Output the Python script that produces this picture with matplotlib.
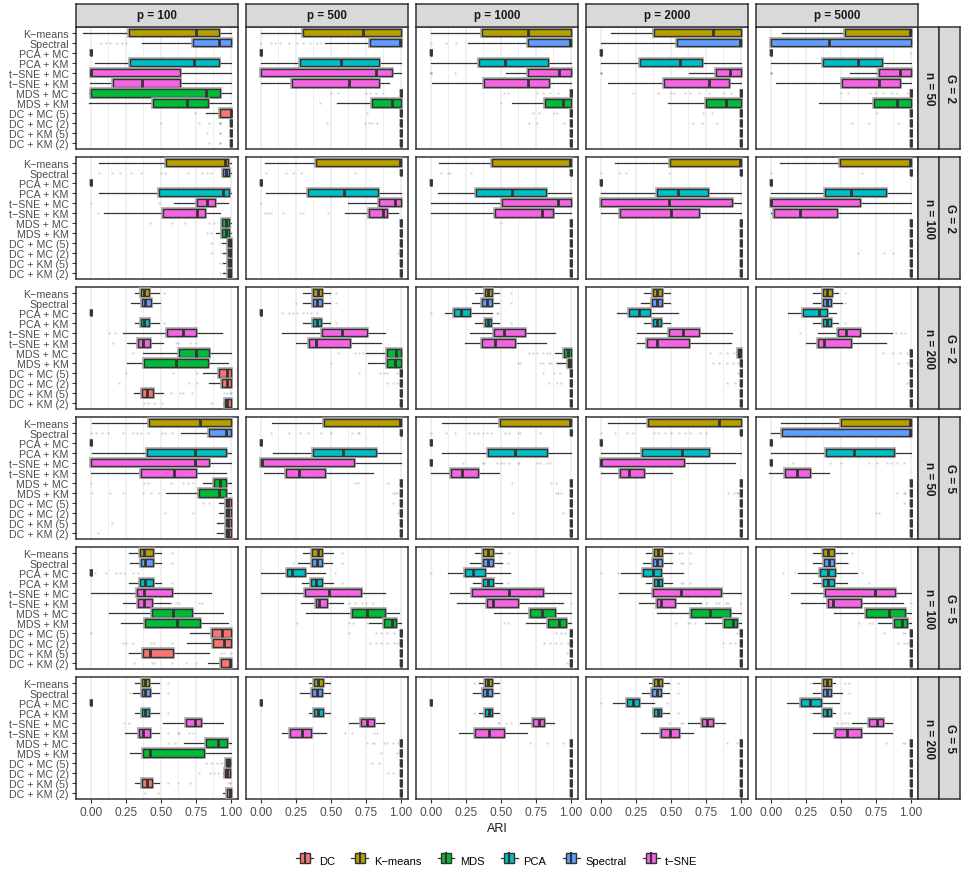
import matplotlib
matplotlib.use("Agg")
import matplotlib.pyplot as plt
from matplotlib.patches import Rectangle, Patch
from matplotlib.lines import Line2D
from matplotlib.legend_handler import HandlerBase
import matplotlib.patheffects as pe

plt.rcParams['font.family'] = ['Liberation Sans', 'DejaVu Sans']

methods = ["K\u2212means", "Spectral", "PCA + MC", "PCA + KM", "t\u2212SNE + MC", "t\u2212SNE + KM",
           "MDS + MC", "MDS + KM", "DC + MC (5)", "DC + MC (2)", "DC + KM (5)", "DC + KM (2)"]
method_group = ["K\u2212means", "Spectral", "PCA", "PCA", "t\u2212SNE", "t\u2212SNE",
                "MDS", "MDS", "DC", "DC", "DC", "DC"]
legend_order = ["DC", "K\u2212means", "MDS", "PCA", "Spectral", "t\u2212SNE"]
group_colors = {"DC": "#F8766D", "K\u2212means": "#B79F00", "MDS": "#00BA38",
                "PCA": "#00BFC4", "Spectral": "#619CFF", "t\u2212SNE": "#F564E3"}
p_labels = ["p = 100", "p = 500", "p = 1000", "p = 2000", "p = 5000"]
n_labels = ["n = 50", "n = 100", "n = 200", "n = 50", "n = 100", "n = 200"]
g_labels = ["G = 2", "G = 2", "G = 2", "G = 5", "G = 5", "G = 5"]
x_ticks = [0.0, 0.25, 0.5, 0.75, 1.0]

# box stats per method: (whisker low, q1, median, q3, whisker high)
ONE = (1.0, 1.0, 1.0, 1.0, 1.0)
ZERO = (0.0, 0.0, 0.0, 0.0, 0.0)

g2_n50 = [
    [(-0.055, 0.271, 0.751, 0.917, 1.0), (0.363, 0.732, 0.914, 1.0, 1.0), ZERO,
     (0.033, 0.28, 0.736, 0.912, 1.0), (0.0, 0.0, 0.005, 0.634, 1.0), (-0.005, 0.16, 0.363, 0.636, 1.0),
     (-0.01, 0.0, 0.824, 0.919, 1.0), (-0.01, 0.447, 0.684, 0.834, 1.0), (0.824, 0.919, 1.0, 1.0, 1.0),
     ONE, ONE, ONE],
    [(0.0, 0.304, 0.732, 1.0, 1.0), (0.458, 0.781, 0.993, 1.0, 1.0), ZERO,
     (0.0, 0.278, 0.572, 0.846, 1.0), (0.0, 0.002, 0.822, 0.938, 1.0), (0.0, 0.226, 0.627, 0.841, 0.917),
     ONE, (0.542, 0.791, 0.936, 1.0, 1.0), ONE, ONE, ONE, ONE],
    [(0.0, 0.368, 0.69, 1.0, 1.0), (0.268, 0.697, 0.992, 1.0, 1.0), ZERO,
     (0.0, 0.342, 0.533, 0.837, 1.0), (0.54, 0.695, 0.913, 1.0, 1.0), (0.007, 0.382, 0.697, 0.842, 1.0),
     ONE, (0.581, 0.816, 0.942, 1.0, 1.0), ONE, ONE, ONE, ONE],
    [(0.071, 0.382, 0.8, 1.0, 1.0), (0.0, 0.542, 0.995, 1.0, 1.0), ZERO,
     (0.0, 0.283, 0.563, 0.724, 1.0), (0.632, 0.819, 0.919, 1.0, 1.0), (0.052, 0.449, 0.77, 0.917, 1.0),
     ONE, (0.482, 0.753, 0.895, 1.0, 1.0), ONE, ONE, ONE, ONE],
    [(0.081, 0.527, 0.99, 1.0, 1.0), (0.0, 0.0, 0.413, 1.0, 1.0), ZERO,
     (0.0, 0.375, 0.622, 0.793, 1.0), (0.565, 0.77, 0.924, 1.0, 1.0), (0.038, 0.508, 0.77, 0.919, 1.0),
     ONE, (0.347, 0.739, 0.898, 1.0, 1.0), ONE, ONE, ONE, ONE],
]

g2_n100 = [
    [(0.059, 0.539, 0.957, 0.981, 1.0), (0.941, 0.941, 0.967, 0.983, 1.0), ZERO,
     (0.059, 0.485, 0.941, 0.983, 1.0), (0.594, 0.76, 0.831, 0.884, 0.981), (0.095, 0.515, 0.755, 0.812, 0.922),
     (0.93, 0.938, 0.964, 0.983, 1.0), (0.89, 0.938, 0.962, 0.983, 1.0), (0.933, 0.976, 0.993, 1.0, 1.0),
     (0.94, 0.976, 0.995, 1.0, 1.0), (0.94, 0.976, 0.995, 1.0, 1.0), (0.94, 0.976, 0.995, 1.0, 1.0)],
    [(0.033, 0.394, 0.993, 1.0, 1.0), ONE, ZERO,
     (0.036, 0.34, 0.596, 0.836, 1.0), (0.62, 0.846, 0.96, 1.0, 1.0), (0.601, 0.774, 0.869, 0.9, 0.976),
     ONE, ONE, ONE, ONE, ONE, ONE],
    [(0.062, 0.435, 0.99, 1.0, 1.0), ONE, ZERO,
     (0.05, 0.321, 0.581, 0.823, 1.0), (0.0, 0.51, 0.909, 1.0, 1.0), (0.0, 0.458, 0.792, 0.873, 1.0),
     ONE, ONE, ONE, ONE, ONE, ONE],
    [(0.1, 0.494, 0.995, 1.0, 1.0), ONE, ZERO,
     (0.0, 0.404, 0.549, 0.762, 1.0), (0.0, 0.0, 0.487, 0.938, 1.0), (0.0, 0.138, 0.504, 0.703, 1.0),
     ONE, ONE, ONE, ONE, ONE, ONE],
    [(0.067, 0.494, 0.993, 1.0, 1.0), ONE, ZERO,
     (0.0, 0.385, 0.57, 0.824, 1.0), (0.0, 0.0, 0.005, 0.637, 1.0), (0.0, 0.021, 0.207, 0.47, 1.0),
     ONE, ONE, ONE, ONE, ONE, ONE],
]

g2_n200 = [
    [(0.316, 0.359, 0.382, 0.418, 0.489), (0.287, 0.368, 0.39, 0.428, 0.494), ZERO,
     (0.316, 0.356, 0.382, 0.418, 0.489), (0.233, 0.542, 0.658, 0.753, 0.936), (0.259, 0.337, 0.375, 0.425, 0.518),
     (0.375, 0.632, 0.751, 0.843, 0.998), (0.259, 0.382, 0.608, 0.834, 0.981), (0.8, 0.914, 0.971, 1.0, 1.0),
     (0.846, 0.936, 0.974, 1.0, 1.0), (0.311, 0.368, 0.399, 0.447, 0.513), (0.943, 0.957, 0.974, 1.0, 1.0)],
    [(0.304, 0.375, 0.406, 0.435, 0.494), (0.304, 0.375, 0.404, 0.437, 0.494), ZERO,
     (0.304, 0.375, 0.404, 0.432, 0.494), (0.15, 0.439, 0.577, 0.76, 0.886), (0.252, 0.347, 0.392, 0.637, 0.855),
     (0.751, 0.898, 0.964, 1.0, 1.0), (0.762, 0.898, 0.957, 1.0, 1.0), ONE, ONE, ONE, ONE],
    [(0.316, 0.387, 0.411, 0.434, 0.488), (0.297, 0.368, 0.404, 0.436, 0.488), (0.102, 0.166, 0.214, 0.28, 0.437),
     (0.316, 0.387, 0.409, 0.431, 0.488), (0.28, 0.454, 0.524, 0.673, 0.889), (0.247, 0.366, 0.458, 0.602, 0.823),
     (0.885, 0.949, 0.98, 1.0, 1.0), (0.897, 0.98, 0.992, 1.0, 1.0), ONE, ONE, ONE, ONE],
    [(0.311, 0.375, 0.399, 0.435, 0.496), (0.287, 0.368, 0.399, 0.439, 0.496), (0.114, 0.204, 0.273, 0.354, 0.549),
     (0.311, 0.375, 0.404, 0.432, 0.496), (0.261, 0.487, 0.589, 0.698, 0.936), (0.259, 0.33, 0.399, 0.627, 0.926),
     (0.97, 0.979, 0.99, 1.0, 1.0), ONE, ONE, ONE, ONE, ONE],
    [(0.304, 0.375, 0.404, 0.435, 0.482), (0.304, 0.373, 0.402, 0.432, 0.506), (0.126, 0.233, 0.347, 0.399, 0.463),
     (0.304, 0.375, 0.404, 0.432, 0.482), (0.34, 0.482, 0.539, 0.637, 0.862), (0.254, 0.34, 0.382, 0.572, 0.819),
     ONE, ONE, ONE, ONE, ONE, ONE],
]

g5_n50 = [
    [(0.012, 0.418, 0.779, 1.0, 1.0), (0.644, 0.843, 0.967, 1.0, 1.0), ZERO,
     (0.01, 0.399, 0.741, 0.962, 1.0), (0.0, 0.0, 0.743, 0.841, 1.0), (0.0, 0.356, 0.596, 0.748, 0.962),
     (0.798, 0.881, 0.922, 0.962, 1.0), (0.539, 0.774, 0.917, 0.962, 1.0), (0.917, 0.962, 0.981, 1.0, 1.0),
     (0.917, 0.962, 0.981, 1.0, 1.0), (0.903, 0.962, 0.981, 1.0, 1.0), (0.903, 0.962, 0.981, 1.0, 1.0)],
    [(0.083, 0.454, 0.993, 1.0, 1.0), ONE, ZERO,
     (0.086, 0.375, 0.589, 0.819, 1.0), (0.0, 0.0, 0.007, 0.667, 1.0), (0.026, 0.181, 0.271, 0.456, 0.803),
     ONE, ONE, ONE, ONE, ONE, ONE],
    [(0.078, 0.493, 0.992, 1.0, 1.0), ONE, ZERO,
     (0.078, 0.406, 0.6, 0.83, 1.0), ZERO, (0.0, 0.143, 0.221, 0.34, 0.487),
     ONE, ONE, ONE, ONE, ONE, ONE],
    [(0.055, 0.34, 0.841, 1.0, 1.0), ONE, ZERO,
     (0.0, 0.297, 0.58, 0.774, 1.0), (0.0, 0.0, 0.004, 0.596, 0.957), (0.0, 0.138, 0.204, 0.309, 0.511),
     ONE, ONE, ONE, ONE, ONE, ONE],
    [(0.071, 0.501, 0.993, 1.0, 1.0), (0.0, 0.081, 0.993, 1.0, 1.0), ZERO,
     (0.0, 0.392, 0.594, 0.881, 1.0), ZERO, (-0.01, 0.105, 0.19, 0.283, 0.418),
     ONE, ONE, ONE, ONE, ONE, ONE],
]

g5_n100 = [
    [(0.271, 0.354, 0.38, 0.442, 0.501), (0.278, 0.359, 0.385, 0.442, 0.501), ZERO,
     (0.271, 0.352, 0.385, 0.442, 0.501), (0.0, 0.333, 0.382, 0.58, 0.857), (0.23, 0.34, 0.38, 0.435, 0.563),
     (0.131, 0.439, 0.589, 0.724, 0.941), (0.219, 0.385, 0.613, 0.781, 0.981), (0.708, 0.862, 0.938, 1.0, 1.0),
     (0.686, 0.872, 0.95, 1.0, 1.0), (0.276, 0.371, 0.425, 0.589, 0.846), (0.836, 0.926, 0.99, 1.0, 1.0)],
    [(0.299, 0.363, 0.411, 0.437, 0.518), (0.264, 0.366, 0.399, 0.437, 0.506), (0.005, 0.19, 0.226, 0.316, 0.458),
     (0.297, 0.361, 0.394, 0.437, 0.518), (0.0, 0.318, 0.487, 0.713, 0.886), (0.287, 0.394, 0.418, 0.475, 0.589),
     (0.323, 0.651, 0.76, 0.888, 0.983), (0.774, 0.881, 0.938, 0.967, 1.0), ONE, ONE, ONE, ONE],
    [(0.316, 0.375, 0.406, 0.442, 0.51), (0.28, 0.373, 0.411, 0.442, 0.51), (0.126, 0.245, 0.304, 0.387, 0.564),
     (0.304, 0.373, 0.406, 0.442, 0.51), (0.138, 0.297, 0.559, 0.802, 1.0), (0.19, 0.399, 0.447, 0.624, 0.944),
     (0.452, 0.709, 0.794, 0.889, 1.0), (0.678, 0.837, 0.913, 0.963, 1.0), ONE, ONE, ONE, ONE],
    [(0.325, 0.38, 0.406, 0.439, 0.511), (0.302, 0.375, 0.399, 0.435, 0.511), (0.145, 0.304, 0.371, 0.428, 0.584),
     (0.325, 0.382, 0.406, 0.437, 0.511), (0.128, 0.375, 0.572, 0.855, 0.998), (0.271, 0.404, 0.428, 0.532, 0.715),
     (0.399, 0.646, 0.779, 0.919, 0.998), (0.746, 0.876, 0.945, 0.974, 1.0), ONE, ONE, ONE, ONE],
    [(0.304, 0.371, 0.411, 0.454, 0.546), (0.304, 0.382, 0.418, 0.454, 0.546), (0.197, 0.352, 0.406, 0.461, 0.613),
     (0.304, 0.371, 0.411, 0.454, 0.546), (0.147, 0.39, 0.743, 0.886, 0.998), (0.216, 0.411, 0.447, 0.644, 0.941),
     (0.454, 0.679, 0.843, 0.96, 1.0), (0.762, 0.879, 0.936, 0.974, 1.0), ONE, ONE, ONE, ONE],
]

g5_n200 = [
    [(0.316, 0.363, 0.385, 0.418, 0.489), (0.304, 0.363, 0.385, 0.423, 0.489), ZERO,
     (0.316, 0.363, 0.39, 0.418, 0.489), (0.518, 0.677, 0.743, 0.786, 0.943), (0.242, 0.347, 0.371, 0.423, 0.489),
     (0.667, 0.824, 0.905, 0.969, 1.0), (0.28, 0.375, 0.423, 0.81, 1.0), (0.962, 0.962, 0.976, 0.993, 1.0),
     (0.957, 0.957, 0.969, 0.993, 1.0), (0.316, 0.368, 0.399, 0.435, 0.489), (0.945, 0.974, 0.993, 1.0, 1.0)],
    [(0.347, 0.38, 0.411, 0.442, 0.494), (0.28, 0.368, 0.399, 0.435, 0.494), ZERO,
     (0.347, 0.38, 0.406, 0.442, 0.494), (0.629, 0.713, 0.76, 0.81, 0.881), (0.15, 0.211, 0.295, 0.356, 0.463),
     ONE, ONE, ONE, ONE, ONE, ONE],
    [(0.344, 0.387, 0.411, 0.44, 0.486), (0.304, 0.371, 0.4, 0.44, 0.486), ZERO,
     (0.344, 0.389, 0.413, 0.44, 0.486), (0.636, 0.731, 0.771, 0.809, 0.878), (0.2, 0.318, 0.418, 0.521, 0.683),
     ONE, ONE, ONE, ONE, ONE, ONE],
    [(0.344, 0.38, 0.406, 0.435, 0.485), (0.292, 0.368, 0.399, 0.432, 0.485), (0.086, 0.185, 0.228, 0.276, 0.38),
     (0.375, 0.38, 0.406, 0.432, 0.485), (0.625, 0.722, 0.76, 0.798, 0.884), (0.287, 0.432, 0.494, 0.561, 0.656),
     ONE, ONE, ONE, ONE, ONE, ONE],
    [(0.304, 0.375, 0.399, 0.428, 0.461), (0.304, 0.371, 0.399, 0.428, 0.506), (0.114, 0.214, 0.28, 0.356, 0.489),
     (0.304, 0.375, 0.399, 0.428, 0.461), (0.582, 0.703, 0.755, 0.798, 0.867), (0.304, 0.458, 0.546, 0.646, 0.867),
     ONE, ONE, ONE, ONE, ONE, ONE],
]

# outliers: {method index: [values]} for each p
g2_n50_out = [
    {1: [0.07, 0.11, 0.14, 0.19, 0.22, 0.25], 8: [0.74], 9: [0.5, 0.77, 0.84, 0.92, 0.92, 0.92],
     10: [0.83, 0.92, 0.92], 11: [0.84, 0.92, 0.92]},
    {1: [0.0, 0.07, 0.1, 0.14, 0.2, 0.26, 0.3, 0.35, 0.4, 0.43], 6: [0.5, 0.55, 0.75, 0.78, 0.82, 0.87],
     7: [0.42], 8: [0.76], 9: [0.47, 0.74, 0.77, 0.79, 0.83]},
    {1: [0.0, 0.11, 0.18], 4: [0.0, 0.0, 0.0, 0.17], 5: [0.37], 6: [0.52, 0.55, 0.76, 0.8, 0.85, 0.91],
     7: [0.5], 8: [0.73, 0.77, 0.88, 0.9], 9: [0.7, 0.76, 0.95]},
    {4: [0.0, 0.0, 0.0], 6: [0.23, 0.41, 0.5, 0.52, 0.6, 0.64, 0.7, 0.77, 0.88, 0.93], 8: [0.73, 0.79],
     9: [0.66, 0.72, 0.83]},
    {2: [1.0], 4: [0.0, 0.0, 0.0], 6: [0.5, 0.55, 0.71, 0.75, 0.8, 0.86, 0.9, 0.97], 8: [0.76],
     9: [0.58, 0.7, 0.91]},
]
g2_n100_out = [
    {1: [0.06, 0.15, 0.21, 0.29, 0.36, 0.5, 0.53, 0.69, 0.79, 0.83, 0.86], 4: [0.0, 0.49], 5: [0.05],
     6: [0.42, 0.58, 0.67, 0.84, 0.88], 7: [0.83, 0.86], 8: [0.86, 0.92], 9: [0.86, 0.93, 0.95],
     10: [0.92, 0.94], 11: [0.92, 0.95]},
    {1: [0.04, 0.18, 0.23, 0.29, 0.67, 0.99], 4: [0.0], 5: [0.03, 0.05, 0.07, 0.16, 0.28, 0.3, 0.48], 9: [0.98]},
    {1: [0.07, 0.12, 0.14, 0.29], 6: [0.5]},
    {1: [0.0, 0.14, 0.18, 0.49]},
    {1: [0.0, 0.65], 9: [0.62, 0.81, 0.87]},
]
g2_n200_out = [
    {0: [0.52], 3: [0.52], 4: [0.13, 0.17], 5: [0.16, 0.61, 0.62, 0.71, 0.75], 6: [0.3],
     8: [0.25, 0.59, 0.76], 9: [0.2, 0.7, 0.76, 0.88], 10: [0.57, 0.64, 0.66, 0.72, 0.95, 0.97, 0.99, 1.0],
     11: [0.38, 0.41, 0.45, 0.51, 0.86]},
    {0: [0.54], 1: [0.25, 0.54], 2: [0.15, 0.2, 0.23, 0.26, 0.3, 0.33, 0.36, 0.4], 3: [0.54],
     6: [0.55, 0.67, 0.7, 0.73], 7: [0.5], 8: [0.7, 0.85, 0.88, 0.9, 0.97], 9: [0.9, 0.94, 0.97]},
    {0: [0.57], 1: [0.57], 2: [0.0, 0.47, 0.48], 3: [0.57], 6: [0.7, 0.73, 0.76, 0.8, 0.83, 0.85],
     7: [0.62, 0.64, 0.78, 0.8, 0.84, 0.86, 0.89, 0.91, 0.93], 8: [0.8, 0.88, 0.92], 9: [0.84, 0.9, 0.93]},
    {6: [0.78, 0.85, 0.9, 0.95, 0.97], 7: [0.8, 0.84, 0.9, 0.94, 0.98], 8: [0.98], 9: [0.9, 0.96]},
    {0: [0.53], 1: [0.53], 3: [0.53], 4: [0.21, 0.89, 0.93, 0.96], 6: [0.8, 0.87, 0.92, 0.97],
     7: [0.91, 0.97], 9: [0.97]},
]
g5_n50_out = [
    {1: [0.0, 0.04, 0.08, 0.12, 0.23, 0.3, 0.33, 0.36, 0.41, 0.51, 0.53, 0.58],
     6: [0.0, 0.38, 0.41, 0.57, 0.66, 0.69, 0.73], 7: [0.01, 0.14, 0.23, 0.37, 0.43, 0.49],
     8: [0.8, 0.84], 9: [0.53, 0.73], 10: [0.15, 0.91], 11: [0.05]},
    {1: [0.07, 0.2, 0.28, 0.34, 0.43, 0.5, 0.65, 0.69, 0.7], 6: [0.67, 0.69, 0.91], 7: [0.94, 0.96, 0.97],
     8: [0.94], 9: [0.98]},
    {1: [0.0, 0.11, 0.17, 0.27, 0.31, 0.34, 0.37, 0.4, 0.43, 0.53, 0.56, 0.62, 0.64, 0.78],
     4: [0.23, 0.37, 0.38, 0.47, 0.5, 0.52, 0.56, 0.62, 0.63, 0.76, 0.78, 0.83, 0.85],
     6: [0.58, 0.86, 0.89], 7: [0.89, 0.91, 0.93], 9: [0.59, 0.94]},
    {1: [0.0, 0.1, 0.19, 0.23, 0.38, 0.41, 0.46, 0.5, 0.56, 0.6, 0.64, 0.71, 0.75], 7: [0.91, 0.95, 0.97, 0.98]},
    {4: [0.16, 0.42, 0.5, 0.7, 0.76, 0.83, 0.86, 0.9, 0.95], 7: [0.9, 0.95, 0.96], 8: [0.95], 9: [0.75, 0.77]},
]
g5_n100_out = [
    {0: [0.58], 1: [0.58], 2: [0.03, 0.11, 0.18, 0.21, 0.24, 0.3, 0.34], 3: [0.58],
     5: [0.58, 0.61, 0.63, 0.77, 0.79], 8: [0.0], 9: [0.23, 0.25, 0.3, 0.43, 0.45, 0.58],
     10: [0.93, 0.95, 1.0], 11: [0.31, 0.44, 0.45, 0.58, 0.68, 0.75]},
    {0: [0.58], 1: [0.23, 0.58], 2: [0.53], 3: [0.58], 5: [0.63, 0.67, 0.72, 0.75, 0.8],
     7: [0.26, 0.63, 0.66, 0.76], 8: [0.63, 0.82, 0.86, 0.9, 0.95], 9: [0.78, 0.82, 0.86, 0.9, 0.95, 0.97]},
    {0: [0.56], 1: [0.55], 2: [0.0], 3: [0.55], 5: [1.0], 7: [0.52, 0.55], 8: [0.89, 0.93, 0.96, 0.99],
     9: [0.81, 0.85, 0.89, 0.93, 0.98], 10: [0.97], 11: [0.97]},
    {0: [0.56, 0.58, 0.64], 1: [0.57, 0.59, 0.64], 2: [0.0, 0.12], 3: [0.57, 0.59, 0.64],
     5: [0.76, 0.82, 0.84, 0.89, 0.91, 1.0], 7: [0.54, 0.62, 0.64, 0.67], 8: [0.97], 9: [0.87, 0.92, 0.96]},
    {0: [0.58], 1: [0.55], 2: [0.09, 0.17, 0.65], 3: [0.7], 5: [1.0], 7: [0.63, 0.7, 0.72],
     8: [0.81, 0.94, 0.96], 9: [0.91, 0.95, 0.97]},
]
g5_n200_out = [
    {0: [0.55], 1: [0.28, 0.55], 3: [0.55], 4: [0.24, 0.27], 5: [0.55, 0.62, 0.63, 0.7, 0.73],
     6: [0.55, 0.6], 8: [0.82, 0.86, 0.9, 0.93, 0.95], 9: [0.77, 0.85, 0.88, 0.91, 0.94],
     10: [0.55, 0.62, 0.71, 0.98, 0.99, 1.0], 11: [0.39, 0.48]},
    {5: [0.6, 0.65, 0.81, 0.83], 6: [0.76, 0.79, 0.81, 0.88, 0.9, 0.94, 0.98], 7: [0.86, 0.97],
     8: [0.79, 0.84], 9: [0.91, 0.94]},
    {0: [0.31], 3: [0.31], 4: [0.48, 0.49, 0.54, 0.57], 6: [0.71, 0.83, 0.94]},
    {0: [0.55], 1: [0.55], 2: [0.0, 0.47], 3: [0.55], 4: [0.49, 0.57, 0.59], 6: [0.9, 0.97]},
    {0: [0.29, 0.53, 0.56], 1: [0.56], 3: [0.29, 0.53, 0.56], 4: [0.47, 0.51, 0.53, 0.55], 6: [0.82, 0.94, 0.96]},
]

rows = [g2_n50, g2_n100, g2_n200, g5_n50, g5_n100, g5_n200]
rows_out = [g2_n50_out, g2_n100_out, g2_n200_out, g5_n50_out, g5_n100_out, g5_n200_out]

W, H = 967, 878
fig = plt.figure(figsize=(W / 100, H / 100), dpi=100)


def px_axes(x, y, w, h):
    return fig.add_axes([x / W, 1 - (y + h) / H, w / W, h / H])


DARK = "#333333"
ypos = list(range(12, 0, -1))
halo = [pe.Stroke(linewidth=2.6, foreground="#a8a8a8"), pe.Normal()]

for r, (row, row_out) in enumerate(zip(rows, rows_out)):
    for c in range(5):
        ax = px_axes(75.7 + 170 * c, 27.5 + 130 * r, 162.6, 122.6)
        stats = [dict(whislo=s[0], q1=s[1], med=s[2], q3=s[3], whishi=s[4], fliers=[]) for s in row[c]]
        bp = ax.bxp(stats, positions=ypos, widths=0.75, orientation='horizontal', patch_artist=True,
                    showcaps=False, manage_ticks=False,
                    boxprops=dict(edgecolor=DARK, linewidth=1.0),
                    whiskerprops=dict(color=DARK, linewidth=0.9),
                    medianprops=dict(color=DARK, linewidth=2.0, solid_capstyle='butt'))
        for patch, g in zip(bp['boxes'], method_group):
            patch.set_facecolor(group_colors[g])
            patch.set_path_effects(halo)
            patch.set_zorder(3)
        for m in bp['medians']:
            m.set_zorder(4)
        for idx, vals in row_out[c].items():
            ax.scatter(vals, [ypos[idx]] * len(vals), s=3, color="#555555", alpha=0.22,
                       linewidths=0, zorder=2)

        ax.set_xlim(-0.107, 1.052)
        ax.set_ylim(0.4, 12.6)
        ax.set_xticks(x_ticks)
        ax.set_xticks([0.125, 0.375, 0.625, 0.875], minor=True)
        ax.grid(axis='x', which='major', color='#EBEBEB', linewidth=1.1)
        ax.grid(axis='x', which='minor', color='#EBEBEB', linewidth=0.6)
        ax.set_axisbelow(True)
        for sp in ax.spines.values():
            sp.set_color(DARK)
            sp.set_linewidth(1.1)
        ax.tick_params(which='minor', length=0)
        ax.tick_params(which='major', color=DARK, length=3, width=0.8, labelcolor='#4D4D4D', pad=2)
        ax.set_yticks(ypos)
        if c == 0:
            ax.set_yticklabels(methods, fontsize=7.7)
        else:
            ax.tick_params(axis='y', length=0, labelleft=False)
        if r == len(rows) - 1:
            ax.set_xticklabels(["%.2f" % t for t in x_ticks], fontsize=8.6)
        else:
            ax.tick_params(axis='x', length=0, labelbottom=False)


def strip(x, y, w, h, text, rot=0):
    s = px_axes(x, y, w, h)
    s.set_facecolor('#D9D9D9')
    s.set_xticks([])
    s.set_yticks([])
    for sp in s.spines.values():
        sp.set_color(DARK)
        sp.set_linewidth(1.1)
    s.text(0.5, 0.5, text, ha='center', va='center', rotation=rot, fontsize=8.4,
           fontweight='bold', color='#1A1A1A', transform=s.transAxes)


for c in range(5):
    strip(75.7 + 170 * c, 5, 162.6, 22.5, p_labels[c])
for r in range(6):
    strip(918.3, 27.5 + 130 * r, 21, 122.6, n_labels[r], rot=-90)
    strip(939.3, 27.5 + 130 * r, 21, 122.6, g_labels[r], rot=-90)

fig.text(497 / W, 1 - 829 / H, "ARI", ha='center', va='center', fontsize=9, color='#1A1A1A')


class BoxKey(HandlerBase):
    def create_artists(self, legend, orig_handle, xd, yd, width, height, fontsize, trans):
        color = orig_handle.get_facecolor()
        cy = yd + height / 2
        whisk = Line2D([xd, xd + width], [cy, cy], color=DARK, lw=0.9, transform=trans)
        box = Rectangle((xd + width * 0.2, yd), width * 0.6, height, facecolor=color,
                        edgecolor=DARK, lw=1.0, transform=trans)
        med = Line2D([xd + width / 2] * 2, [yd, yd + height], color=DARK, lw=1.5, transform=trans)
        return [whisk, box, med]


handles = [Patch(facecolor=group_colors[g]) for g in legend_order]
fig.legend(handles, legend_order, loc='center', bbox_to_anchor=(497 / W, 1 - 862 / H), ncol=6,
           frameon=False, fontsize=8, handler_map={Patch: BoxKey()}, handlelength=1.5,
           handleheight=1.0, columnspacing=1.5, handletextpad=0.5)

fig.savefig("out.png", dpi=100)
